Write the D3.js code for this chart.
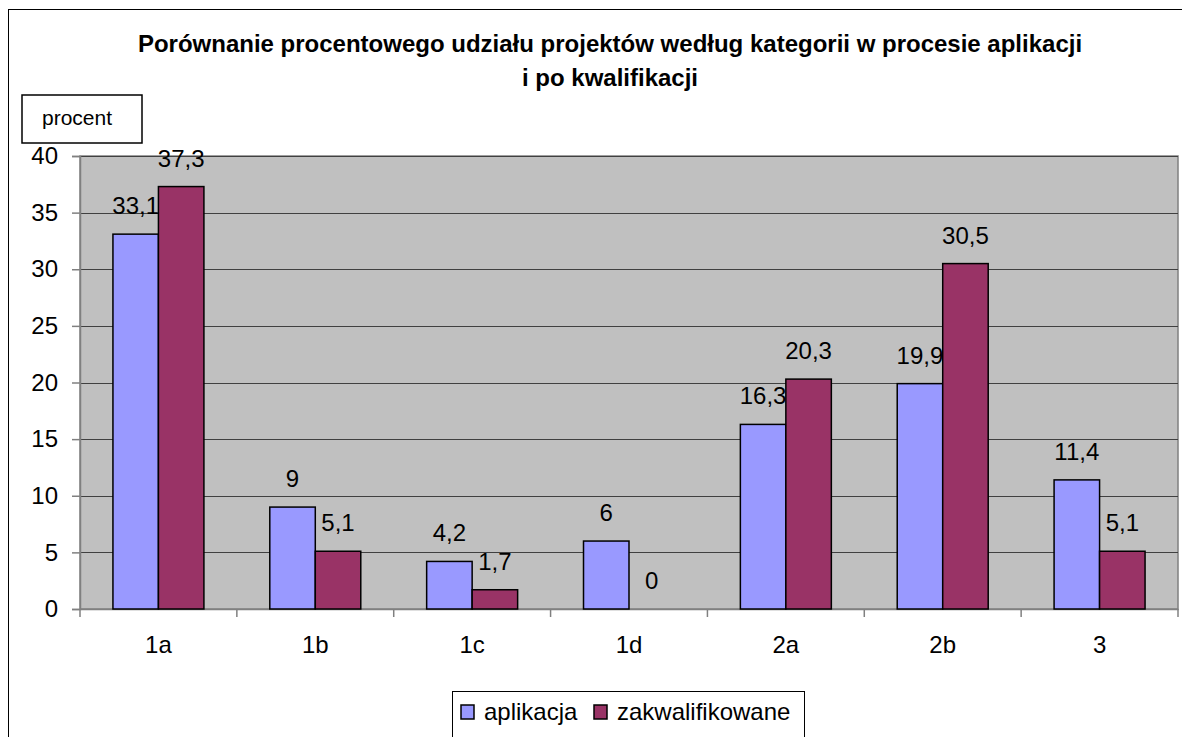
<!DOCTYPE html>
<html>
<head>
<meta charset="utf-8">
<script src="https://cdn.jsdelivr.net/npm/d3@7"></script>
<style>
  body { margin: 0; background: #fff; }
  text { font-family: "Liberation Sans", Arial, sans-serif; fill: #000; }
</style>
</head>
<body>
<svg id="chart" width="1182" height="737"></svg>
<script>
// chart data
var categories = ["1a", "1b", "1c", "1d", "2a", "2b", "3"];
var series = ["aplikacja", "zakwalifikowane"];
var aplikacja = [33.1, 9, 4.2, 6, 16.3, 19.9, 11.4];
var zakwalifikowane = [37.3, 5.1, 1.7, 0, 20.3, 30.5, 5.1];
var yTicks = [0, 5, 10, 15, 20, 25, 30, 35, 40];
var colors = ["#9999FF", "#993366"];
var titleLines = ["Porównanie procentowego udziału projektów według kategorii w procesie aplikacji", "i po kwalifikacji"];

var svg = d3.select("#chart");
var plot = {left: 80, top: 156, right: 1178, bottom: 609};
var ff = "Liberation Sans, Arial, sans-serif";

// outer frame (runs off the picture on the right and bottom)
svg.append("rect").attr("x", 8.5).attr("y", 9.5).attr("width", 1200).attr("height", 800)
  .attr("fill", "white").attr("stroke", "black").attr("stroke-width", 1);

// title
svg.append("g").selectAll("text").data(titleLines).enter().append("text")
  .attr("x", 610).attr("y", function(d, i){ return 52 + i * 34; })
  .attr("text-anchor", "middle").attr("font-size", "24px").attr("font-weight", "bold")
  .text(function(d){ return d; });

var x0 = d3.scaleBand().domain(categories).range([plot.left, plot.right]).padding(0);
var bw = x0.bandwidth();
var x1 = d3.scaleBand().domain(series).range([bw * 0.21, bw * 0.79]).padding(0);
var y = d3.scaleLinear().domain([0, 40]).range([plot.bottom, plot.top]);

// plot area
svg.append("rect").attr("x", plot.left).attr("y", plot.top)
  .attr("width", plot.right - plot.left).attr("height", plot.bottom - plot.top)
  .attr("fill", "#C0C0C0").attr("stroke", "#808080").attr("stroke-width", 1.5);

svg.append("g").selectAll("line").data(yTicks.slice(1)).enter().append("line")
  .attr("x1", plot.left).attr("x2", plot.right)
  .attr("y1", function(d){ return Math.round(y(d)) + 0.5; })
  .attr("y2", function(d){ return Math.round(y(d)) + 0.5; })
  .attr("stroke", "#404040").attr("stroke-width", 1);

// y axis
var yAxis = svg.append("g").attr("transform", "translate(" + plot.left + ",0)")
  .call(d3.axisLeft(y).tickValues(yTicks).tickSize(8).tickPadding(14).tickFormat(d3.format("d")));
yAxis.select(".domain").attr("stroke", "#808080").attr("stroke-width", 1.5);
yAxis.selectAll(".tick line").attr("stroke", "#808080").attr("stroke-width", 1.5);
yAxis.selectAll("text").attr("font-size", "24px").attr("font-family", ff).attr("fill", "#000");

// x axis
var xAxis = svg.append("g").attr("transform", "translate(0," + plot.bottom + ")")
  .call(d3.axisBottom(x0).tickSize(0).tickPadding(27));
xAxis.select(".domain").attr("stroke", "#808080").attr("stroke-width", 1.5);
xAxis.selectAll("text").attr("font-size", "24px").attr("font-family", ff).attr("fill", "#000");
svg.append("g").selectAll("line").data(categories.concat(["end"])).enter().append("line")
  .attr("x1", function(d, i){ return plot.left + i * bw; })
  .attr("x2", function(d, i){ return plot.left + i * bw; })
  .attr("y1", plot.bottom).attr("y2", plot.bottom + 8)
  .attr("stroke", "#808080").attr("stroke-width", 1.5);

// bars
var rows = categories.map(function(c, i){
  return {cat: c, values: [{s: series[0], v: aplikacja[i], c: colors[0]}, {s: series[1], v: zakwalifikowane[i], c: colors[1]}]};
});
var groups = svg.append("g").selectAll("g").data(rows).enter().append("g")
  .attr("transform", function(d){ return "translate(" + x0(d.cat) + ",0)"; });

groups.each(function(d){
  var g = d3.select(this);
  g.selectAll("rect").data(d.values.filter(function(e){ return e.v > 0; })).enter().append("rect")
    .attr("x", function(e){ return x1(e.s); })
    .attr("y", function(e){ return y(e.v); })
    .attr("width", x1.bandwidth())
    .attr("height", function(e){ return y(0) - y(e.v); })
    .attr("fill", function(e){ return e.c; })
    .attr("stroke", "black").attr("stroke-width", 1.5);
  g.selectAll("text").data(d.values).enter().append("text")
    .attr("x", function(e){ return x1(e.s) + x1.bandwidth() / 2; })
    .attr("y", function(e){ return y(e.v) - 20; })
    .attr("text-anchor", "middle").attr("font-size", "24px")
    .text(function(e){ return String(e.v).replace(".", ","); });
});

// "procent" box
svg.append("rect").attr("x", 22).attr("y", 95).attr("width", 120).attr("height", 48)
  .attr("fill", "white").attr("stroke", "black").attr("stroke-width", 1.5);
svg.append("text").attr("x", 42).attr("y", 125).attr("font-size", "21px").text("procent");

// legend
var legend = svg.append("g");
legend.append("rect").attr("x", 452.5).attr("y", 691.5).attr("width", 352).attr("height", 80)
  .attr("fill", "white").attr("stroke", "black").attr("stroke-width", 1);
var legendX = [461, 594];
series.forEach(function(s, i){
  legend.append("rect").attr("x", legendX[i]).attr("y", 705).attr("width", 13).attr("height", 14)
    .attr("fill", colors[i]).attr("stroke", "black").attr("stroke-width", 1.5);
  legend.append("text").attr("x", legendX[i] + 23).attr("y", 720).attr("font-size", "24px").text(s);
});
</script>
</body>
</html>
